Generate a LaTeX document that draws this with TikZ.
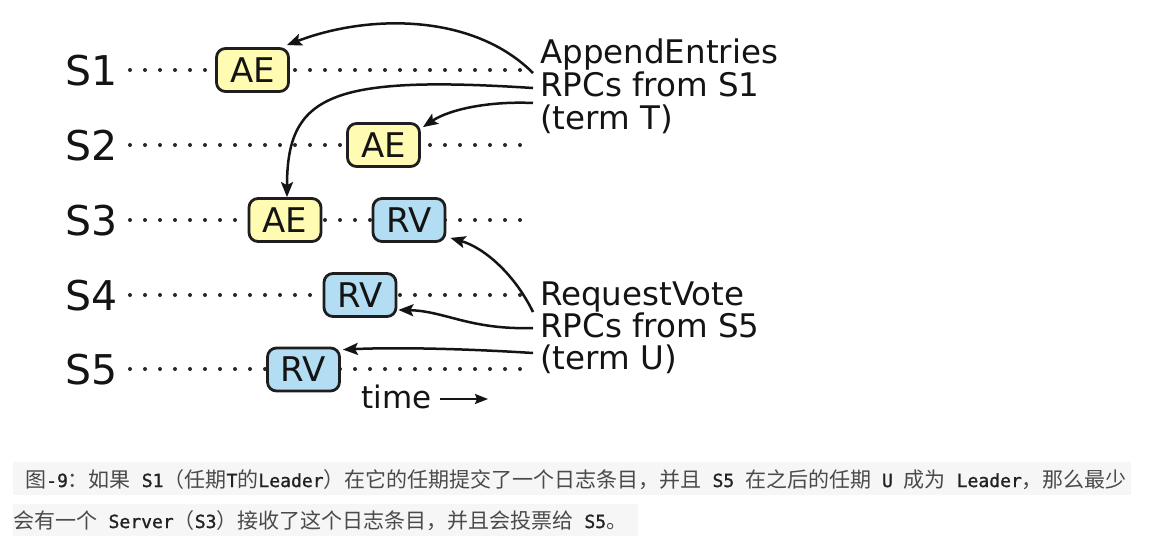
\documentclass[tikz,border=0pt]{standalone}
\usepackage{fontspec}
\setmainfont{DejaVu Sans}
\newfontfamily\cjk{Noto Sans CJK SC}
\newfontfamily\monof[Scale=0.86,FakeBold=1.2]{DejaVu Sans Mono}
\usetikzlibrary{arrows.meta}
\definecolor{aeyellow}{HTML}{FFFBB3}
\definecolor{rvblue}{HTML}{B3DDF2}
\definecolor{boxline}{HTML}{1E1E1E}
\definecolor{capbg}{HTML}{F6F6F6}
\definecolor{captext}{HTML}{4A4A4A}
\definecolor{capmono}{HTML}{222222}
\definecolor{inktext}{HTML}{141414}
\newcommand\mm[1]{{\monof\color{capmono}#1}}
\begin{document}
\begin{tikzpicture}[x=1pt,y=-1pt,
  srv/.style={font=\fontsize{41}{48}\selectfont, text=inktext, inner sep=0pt, anchor=base},
  msgbox/.style={draw=boxline, line width=2.8pt, rounded corners=9pt, minimum width=72pt, minimum height=43pt, inner sep=0pt, text=inktext, font=\fontsize{34}{38}\selectfont},
  aebox/.style={msgbox, fill=aeyellow},
  rvbox/.style={msgbox, fill=rvblue},
  timeline/.style={line width=4pt, line cap=round, dash pattern=on 0pt off 15pt, color=black!85},
  rpc/.style={line width=2.5pt, draw=inktext, -{Stealth[length=15pt,width=12pt,inset=3pt]}},
  timearrow/.style={line width=2pt, draw=inktext, -{Stealth[length=13pt,width=10pt,inset=2pt]}},
  note/.style={font=\fontsize{32.5}{36}\selectfont, text=inktext, inner sep=0pt, anchor=base west},
  capbar/.style={fill=capbg, draw=none},
  captxt/.style={font=\cjk\fontsize{21}{25}\selectfont, text=captext, inner sep=0pt, anchor=base west}]
\useasboundingbox (0,0) rectangle (1150,542);
\fill[white] (0,0) rectangle (1150,542);

% server labels
\node[srv] (s1) at (92,85) {S1};
\node[srv] (s2) at (92,160) {S2};
\node[srv] (s3) at (92,235) {S3};
\node[srv] (s4) at (92,310) {S4};
\node[srv] (s5) at (92,384) {S5};

% timelines
\coordinate (t1a) at (130,70);  \coordinate (t1b) at (520,70);
\coordinate (t2a) at (130,145); \coordinate (t2b) at (520,145);
\coordinate (t3a) at (130,220); \coordinate (t3b) at (520,220);
\coordinate (t4a) at (130,295); \coordinate (t4b) at (520,295);
\coordinate (t5a) at (130,369); \coordinate (t5b) at (520,369);
\draw[timeline] (t1a) -- (t1b);
\draw[timeline] (t2a) -- (t2b);
\draw[timeline] (t3a) -- (t3b);
\draw[timeline] (t4a) -- (t4b);
\draw[timeline] (t5a) -- (t5b);

% message boxes
\node[aebox] (ae1) at (252.5,70) {AE};
\node[aebox] (ae2) at (383.5,145) {AE};
\node[aebox] (ae3) at (285,220) {AE};
\node[rvbox] (rv3) at (409,220) {RV};
\node[rvbox] (rv4) at (360,295) {RV};
\node[rvbox] (rv5) at (303.5,369.5) {RV};

% notes
\node[note] (n1a) at (540,63) {AppendEntries};
\node[note] (n1b) at (540,96) {RPCs from S1};
\node[note] (n1c) at (540,129) {(term T)};
\node[note] (n2a) at (540,305) {RequestVote};
\node[note] (n2b) at (540,337) {RPCs from S5};
\node[note] (n2c) at (540,369) {(term U)};

% arrow origins
\coordinate (o1) at (533,73);
\coordinate (o2) at (533,88);
\coordinate (o3) at (533,103);
\coordinate (o4) at (533,312);
\coordinate (o5) at (533,328);
\coordinate (o6) at (533,353);

\draw[rpc] (o1) .. controls (473,13) and (368,14) .. ([shift={(-3,-2)}]ae1.north east);
\draw[rpc] (o2) .. controls (330,75) and (287,95) .. ([xshift=2pt]ae3.north);
\draw[rpc] (o3) .. controls (490,101) and (450,109) .. ([shift={(2,5)}]ae2.north east);
\draw[rpc] (o4) .. controls (515,275) and (485,248) .. ([shift={(4,-5)}]rv3.south east);
\draw[rpc] (o5) .. controls (470,330) and (445,311) .. ([shift={(1,-8)}]rv4.south east);
\draw[rpc] (o6) .. controls (470,349) and (400,347) .. ([shift={(2,3)}]rv5.north east);

% time
\node[note, anchor=base, font=\fontsize{31}{36}\selectfont] (time) at (396.5,408) {time};
\coordinate (ta) at (440,399);
\coordinate (tb) at (488,399);
\draw[timearrow] (ta) -- (tb);

% caption
\fill[capbar] (13,462) rectangle (1131,495);
\fill[capbar] (13,504) rectangle (638,536);
\node[captxt] (cap1) at (25,487) {图\mm{-9}：如果\mm{~S1}（任期\mm{T}的\mm{Leader}）在它的任期提交了一个日志条目，并且\mm{~S5~}在之后的任期\mm{~U~}成为\mm{~Leader}，那么最少};
\node[captxt] (cap2) at (13.5,528) {会有一个\mm{~Server}（\mm{S3}）接收了这个日志条目，并且会投票给\mm{~S5}。};
\end{tikzpicture}
\end{document}
